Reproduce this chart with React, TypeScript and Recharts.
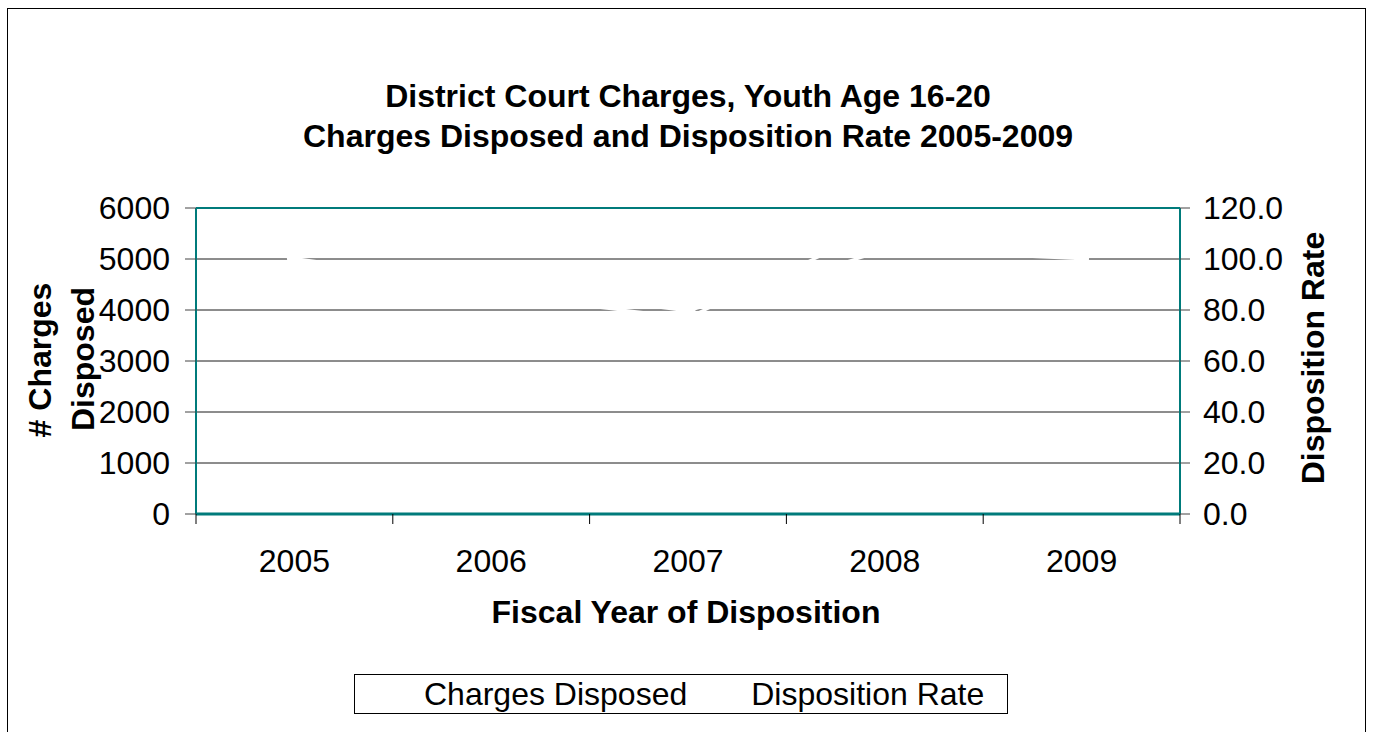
import { LineChart, Line, XAxis, YAxis, CartesianGrid, ReferenceLine } from "recharts";

const years = ["2005", "2006", "2007", "2008", "2009"];
const chargesDisposed = [4500, 4300, 3850, 5650, 5250];
const dispositionRate = [100.2, 89.6, 79.6, 103.5, 100.1];
const leftTicks = [0, 1000, 2000, 3000, 4000, 5000, 6000];
const rightTicks = [0, 20, 40, 60, 80, 100, 120];

const data = years.map((year, i) => ({
  year,
  charges: chargesDisposed[i],
  rate: dispositionRate[i],
}));

const FONT = '"Liberation Sans", Arial, sans-serif';
const TEAL = "#007b7b";
const GRID = "#1a1a1a";

const tickStyle = { fontSize: 32, fill: "#000", fontFamily: FONT };

// category label in the middle, tick marks on the band edges (Excel style)
const YearTick = (props: any) => {
  const { x, y, payload, index, visibleTicksCount } = props;
  const half = payload?.offset ?? 98.4;
  const last = index === (visibleTicksCount ?? years.length) - 1;
  return (
    <g>
      <line x1={x - half} x2={x - half} y1={y} y2={y + 10} stroke="#000" />
      {last && <line x1={x + half} x2={x + half} y1={y} y2={y + 10} stroke="#000" />}
      <text x={x} y={y + 35} dy="0.71em" textAnchor="middle" {...tickStyle}>
        {payload.value}
      </text>
    </g>
  );
};

const rotated = (text: string, cx: number, cy: number, rot: number) => (
  <div
    style={{
      position: "absolute",
      left: cx - 200,
      top: cy - 20,
      width: 400,
      height: 40,
      lineHeight: "40px",
      textAlign: "center",
      fontSize: 32,
      fontWeight: 700,
      transform: `rotate(${rot}deg)`,
      whiteSpace: "nowrap",
    }}
  >
    {text}
  </div>
);

export default function App() {
  return (
    <div
      style={{
        position: "absolute",
        left: 0,
        top: 0,
        width: 1376,
        height: 732,
        overflow: "hidden",
        background: "#fff",
        fontFamily: FONT,
        color: "#000",
      }}
    >
      {/* outer chart border */}
      <div
        style={{
          position: "absolute",
          left: 7,
          top: 8,
          width: 1357,
          height: 740,
          border: "1px solid #000",
        }}
      />

      {/* Title */}
      <div
        style={{
          position: "absolute",
          left: 0,
          top: 76,
          width: 1376,
          textAlign: "center",
          fontSize: 32,
          fontWeight: 700,
          lineHeight: "40px",
        }}
      >
        District Court Charges, Youth Age 16-20
        <br />
        Charges Disposed and Disposition Rate 2005-2009
      </div>

      <div style={{ position: "absolute", left: 0, top: 0 }}>
        <LineChart
          width={1376}
          height={732}
          data={data}
          margin={{ top: 208, right: 126, bottom: 158, left: 126 }}
        >
          <CartesianGrid horizontal vertical={false} stroke={GRID} yAxisId="left" />
          <XAxis
            dataKey="year"
            scale="band"
            interval={0}
            axisLine={{ stroke: TEAL, strokeWidth: 3 }}
            tickLine={false}
            tickSize={0}
            tickMargin={0}
            height={60}
            tick={YearTick}
          />
          <YAxis
            yAxisId="left"
            domain={[0, 6000]}
            ticks={leftTicks}
            width={70}
            tickSize={11}
            tickMargin={15}
            tick={tickStyle}
            axisLine={{ stroke: TEAL, strokeWidth: 2 }}
            tickLine={{ stroke: "#444" }}
          />
          <YAxis
            yAxisId="right"
            orientation="right"
            domain={[0, 120]}
            ticks={rightTicks}
            width={70}
            tickSize={10}
            tickMargin={13}
            tick={tickStyle}
            tickFormatter={(v: number) => v.toFixed(1)}
            axisLine={{ stroke: TEAL, strokeWidth: 2 }}
            tickLine={{ stroke: "#444" }}
          />
          <ReferenceLine yAxisId="left" y={6000} stroke={TEAL} strokeWidth={2} />
          <Line
            yAxisId="left"
            dataKey="charges"
            name="Charges Disposed"
            stroke="#fff"
            strokeWidth={3}
            dot={false}
            isAnimationActive={false}
          />
          <Line
            yAxisId="right"
            dataKey="rate"
            name="Disposition Rate"
            stroke="#fff"
            strokeWidth={3}
            dot={{ r: 6, fill: "#fff", stroke: "#fff" }}
            isAnimationActive={false}
          />
        </LineChart>
      </div>

      {/* Axis titles */}
      {rotated("# Charges", 40, 360, -90)}
      {rotated("Disposed", 83, 359, -90)}
      {rotated("Disposition Rate", 1313, 358, -90)}
      <div
        style={{
          position: "absolute",
          left: 0,
          top: 592,
          width: 1372,
          textAlign: "center",
          fontSize: 32,
          fontWeight: 700,
          lineHeight: "40px",
        }}
      >
        Fiscal Year of Disposition
      </div>

      {/* Legend */}
      <div
        style={{
          position: "absolute",
          left: 354,
          top: 674,
          width: 652,
          height: 38,
          border: "1px solid #000",
          display: "flex",
          alignItems: "center",
          fontSize: 32,
          whiteSpace: "nowrap",
        }}
      >
        <span style={{ display: "inline-block", width: 56, marginLeft: 10, borderTop: "3px solid #fff" }} />
        <span style={{ marginLeft: 3 }}>Charges Disposed</span>
        <span style={{ display: "inline-block", width: 50, marginLeft: 12, borderTop: "3px solid #fff" }} />
        <span style={{ marginLeft: 2 }}>Disposition Rate</span>
      </div>
    </div>
  );
}
